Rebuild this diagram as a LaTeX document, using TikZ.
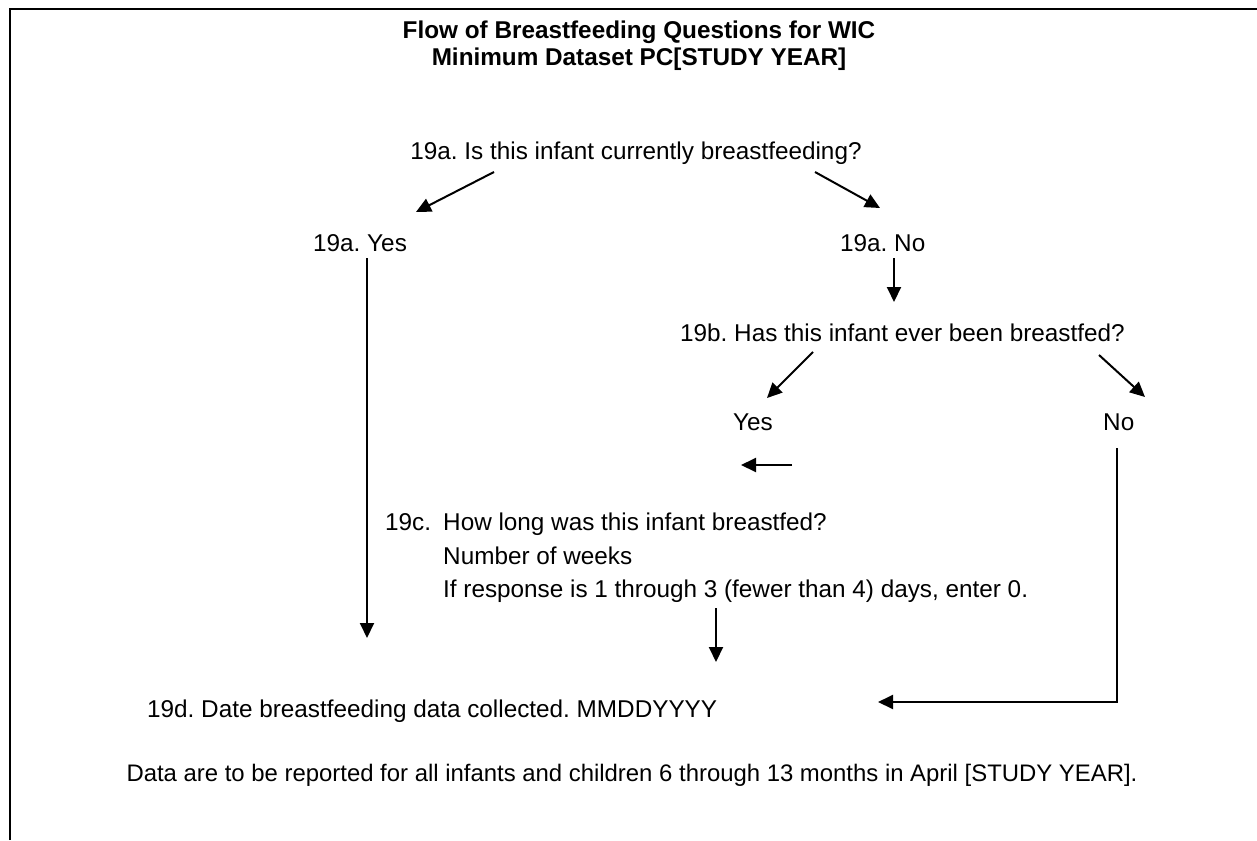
\documentclass[tikz,border=0pt]{standalone}
\usepackage{fontspec}
\setmainfont{Liberation Sans}
\frenchspacing
\usetikzlibrary{arrows.meta}

\begin{document}
\begin{tikzpicture}[x=1pt,y=-1pt,>={Triangle[length=15pt,width=14pt]}]
                        \tikzstyle{every node} = [inner sep=0pt,font=\fontsize{24.3}{34}\selectfont];
                        \tikzstyle{qtext} = [anchor=base];
                        \tikzstyle{ltext} = [anchor=base west];
                        \tikzstyle{titletext} = [anchor=base,font=\fontsize{24.3}{27}\selectfont\bfseries];
                        \tikzstyle{link} = [->,line width=2pt];
                        \useasboundingbox (0,0) rectangle (1257,840);
                        \draw[line width=2pt] (10,840) -- (10,9) -- (1257,9);
                        \node[titletext] (title) at (639,39) {Flow of Breastfeeding Questions for WIC};
                        \node[titletext] (subtitle) at (639,66) {Minimum Dataset PC[STUDY YEAR]};
                        \node[qtext] (q19a) at (636,159) {19a. Is this infant currently breastfeeding?};
                        \node[ltext] (yes19a) at (313,251) {19a. Yes};
                        \node[ltext] (no19a) at (840,251) {19a. No};
                        \node[ltext] (q19b) at (680,341) {19b. Has this infant ever been breastfed?};
                        \node[ltext] (yes19b) at (733,430) {Yes};
                        \node[ltext] (no19b) at (1103,430) {No};
                        \node[ltext] (q19c) at (385,530) {19c.};
                        \node[ltext] (q19cweeks) at (443,530) {How long was this infant breastfed?};
                        \node[ltext] (q19cunit) at (443,564) {Number of weeks};
                        \node[ltext] (q19crule) at (443,597) {If response is 1 through 3 (fewer than 4) days, enter 0.};
                        \node[ltext] (q19d) at (147,717) {19d. Date breastfeeding data collected. MMDDYYYY};
                        \node[qtext,font=\fontsize{23.9}{30}\selectfont] (note) at (632,781) {Data are to be reported for all infants and children 6 through 13 months in April [STUDY YEAR].};
                        % free ends of the arrows
                        \coordinate (yesend) at (416,212);
                        \coordinate (noend) at (880,208);
                        \coordinate (yesdown) at (367,638);
                        \coordinate (nodown) at (894,302);
                        \coordinate (byesend) at (767,398);
                        \coordinate (bnoend) at (1145,397);
                        \coordinate (cstart) at (792,465);
                        \coordinate (cend) at (741,465);
                        \coordinate (ddown) at (716,662);
                        \coordinate (dcorner) at (1117,702);
                        \coordinate (dend) at (878,702);
                        \draw[link] (494,172) -- (yesend);
                        \draw[link] (815,172) -- (noend);
                        \draw[link] (367,258) -- (yesdown);
                        \draw[link] (894,258) -- (nodown);
                        \draw[link] (813,352) -- (byesend);
                        \draw[link] (1099,355) -- (bnoend);
                        \draw[link] (cstart) -- (cend);
                        \draw[link] (716,608) -- (ddown);
                        \draw[link] (1117,448) -- (dcorner) -- (dend);
                    \end{tikzpicture}
\end{document}
